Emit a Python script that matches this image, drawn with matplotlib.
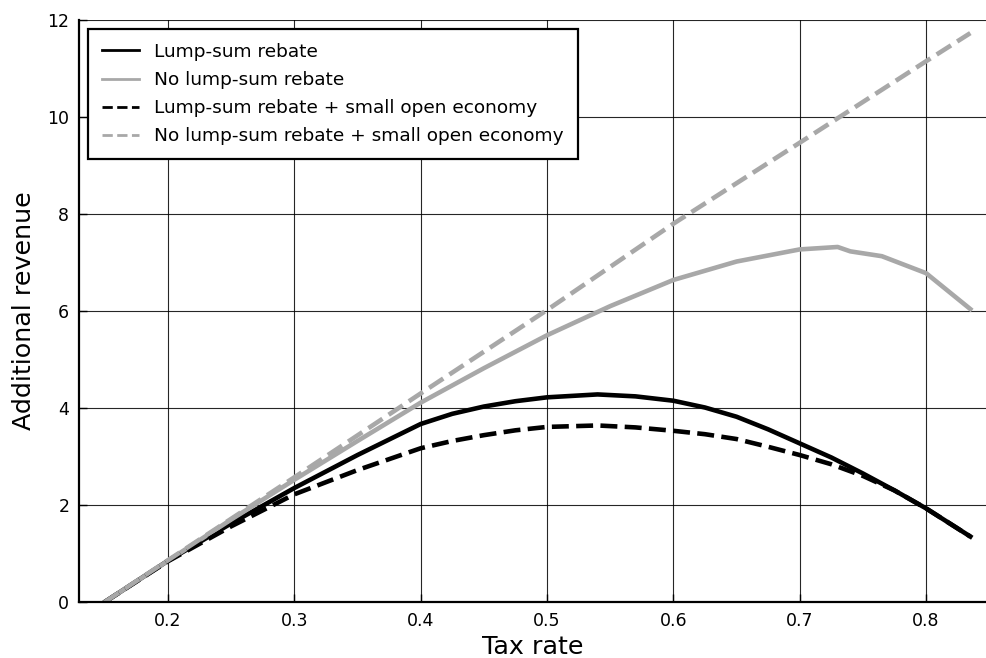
import matplotlib
matplotlib.use("Agg")
import matplotlib.pyplot as plt
import numpy as np

# tax rate grid used by each curve
taxRateA = [0.15, 0.2, 0.25, 0.3, 0.35, 0.4, 0.425, 0.45, 0.475, 0.5, 0.54, 0.57, 0.6,
            0.625, 0.65, 0.675, 0.7, 0.725, 0.75, 0.775, 0.8, 0.835]
lumpSum = [0.0, 0.85, 1.62, 2.35, 3.03, 3.67, 3.88, 4.03, 4.14, 4.22, 4.28, 4.24, 4.15,
           4.01, 3.82, 3.56, 3.27, 2.98, 2.65, 2.3, 1.93, 1.35]
lumpSumSOE = [0.0, 0.84, 1.56, 2.22, 2.72, 3.17, 3.32, 3.44, 3.54, 3.61, 3.64, 3.60, 3.53,
              3.46, 3.36, 3.2, 3.03, 2.84, 2.6, 2.3, 1.93, 1.35]

taxRateB = [0.15, 0.2, 0.25, 0.3, 0.35, 0.4, 0.45, 0.5, 0.55, 0.6, 0.65, 0.7, 0.73,
            0.74, 0.765, 0.78, 0.8, 0.835]
noLumpSum = [0.0, 0.85, 1.7, 2.52, 3.32, 4.11, 4.82, 5.5, 6.1, 6.64, 7.02, 7.27, 7.32,
             7.23, 7.13, 6.98, 6.78, 6.04]

taxRateC = [0.15, 0.2, 0.3, 0.4, 0.5, 0.6, 0.7, 0.8, 0.835]
noLumpSumSOE = [0.0, 0.86, 2.57, 4.3, 6.02, 7.8, 9.47, 11.15, 11.73]

xTicks = [0.2, 0.3, 0.4, 0.5, 0.6, 0.7, 0.8]
yTicks = [0, 2, 4, 6, 8, 10, 12]

grey = "#a8a8a8"

fig = plt.figure(figsize=(9.86, 6.58), dpi=100)
ax = fig.add_axes([0.0801, 0.0851, 0.9199, 0.8845])

ax.plot(taxRateA, lumpSum, color="black", linewidth=3.3, label="Lump-sum rebate")
ax.plot(taxRateB, noLumpSum, color=grey, linewidth=3.3, label="No lump-sum rebate")
ax.plot(taxRateA, lumpSumSOE, color="black", linewidth=3.3, linestyle="--",
        label="Lump-sum rebate + small open economy")
ax.plot(taxRateC, noLumpSumSOE, color=grey, linewidth=3.3, linestyle="--",
        label="No lump-sum rebate + small open economy")

ax.set_xlim(0.1296, 0.8474)
ax.set_ylim(0, 12)
ax.set_xticks(xTicks)
ax.set_yticks(yTicks)
ax.set_xticklabels([str(t) for t in xTicks])
ax.grid(True, color="black", linewidth=0.8, alpha=0.85)
ax.set_axisbelow(True)

for side in ["top", "right"]:
	ax.spines[side].set_visible(False)
for side in ["left", "bottom"]:
	ax.spines[side].set_linewidth(1.6)

ax.tick_params(direction="in", length=6, width=1, labelsize=12.5, pad=7)
ax.set_xlabel("Tax rate", fontsize=18.3, labelpad=4)
ax.set_ylabel("Additional revenue", fontsize=18.3, labelpad=8)

leg = ax.legend(loc="upper left", bbox_to_anchor=(0.0099, 0.9845), borderaxespad=0,
                fontsize=13.3, fancybox=False, framealpha=1, edgecolor="black",
                handlelength=2.0, handletextpad=0.85, labelspacing=0.55,
                borderpad=0.75)
leg.get_frame().set_linewidth(1.6)
# thinner lines in the legend, as in the original
for h in leg.legend_handles:
	h.set_linewidth(2)

plt.savefig("out.png", dpi=100)
plt.close()
